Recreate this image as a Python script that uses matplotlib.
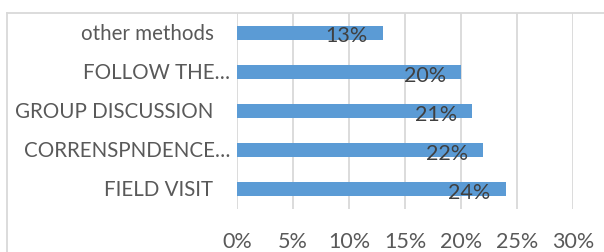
"""Horizontal bar chart: share of methods used."""

import matplotlib.pyplot as plt
from matplotlib.lines import Line2D
from matplotlib.ticker import FuncFormatter

FONT = "Lato"
COLORS = {
    "bar": "#5B9BD5",
    "grid": "#D9D9D9",
    "tick": "#595959",
    "label": "#404040",
}

categories = ["FIELD VISIT", "CORRENSPNDENCE…", "GROUP DISCUSSION", "FOLLOW THE…", "other methods"]
shares = [0.24, 0.22, 0.21, 0.20, 0.13]
label_text = ["24%", "22%", "21%", "20%", "13%"]
x_ticks = [0.0, 0.05, 0.10, 0.15, 0.20, 0.25, 0.30]

fig = plt.figure(figsize=(6.04, 2.53), dpi=100)
ax = fig.add_axes([237 / 604, 1 - 210 / 253, 336 / 604, 196 / 253])

positions = list(range(len(categories)))
ax.barh(positions, shares, height=0.36, color=COLORS["bar"], zorder=3)

ax.set_xlim(0, 0.30)
ax.set_ylim(-0.5, len(categories) - 0.5)
ax.set_xticks(x_ticks)
ax.xaxis.set_major_formatter(FuncFormatter(lambda v, _: f"{v * 100:.0f}%"))
ax.tick_params(axis="x", length=0, pad=16, labelsize=15.5, labelcolor=COLORS["tick"])
ax.tick_params(axis="y", length=0, left=False, labelleft=False)
for lab in ax.get_xticklabels():
    lab.set_fontname(FONT)
ax.grid(axis="x", color=COLORS["grid"], linewidth=1.3, zorder=0)
for spine in ax.spines.values():
    spine.set_visible(False)

# category names, right aligned left of the plot area
for pos, name in zip(positions, categories):
    offset = -5 if name.endswith("…") else -17
    ax.annotate(name, xy=(0, pos), xycoords=("axes fraction", "data"),
                xytext=(offset, 0), textcoords="offset points",
                ha="right", va="center", fontsize=14.8, fontname=FONT,
                color=COLORS["tick"])

# value labels at the inside end of bars
for pos, value, text in zip(positions, shares, label_text):
    ax.annotate(text, xy=(value, pos), xytext=(-11, -2), textcoords="offset points",
                ha="right", va="center", fontsize=15.5, fontname=FONT,
                color=COLORS["label"], zorder=4)

# chart-area border (top and left visible)
fig.add_artist(Line2D([7 / 604, 1], [1 - 14 / 253, 1 - 14 / 253],
                      transform=fig.transFigure, color=COLORS["grid"], linewidth=1.3))
fig.add_artist(Line2D([7 / 604, 7 / 604], [0, 1 - 14 / 253],
                      transform=fig.transFigure, color=COLORS["grid"], linewidth=1.3))

fig.savefig("out.png", dpi=100)
